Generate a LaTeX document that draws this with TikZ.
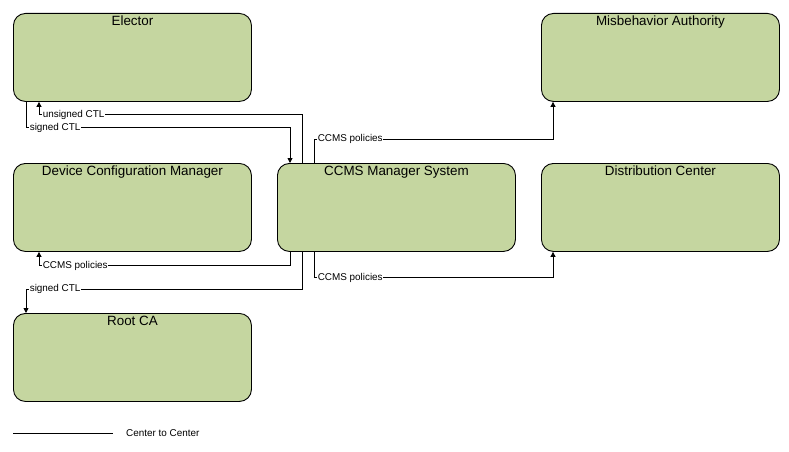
\documentclass[tikz,border=0pt]{standalone}
\usepackage{fontspec}
\setmainfont{Liberation Sans}
\usetikzlibrary{arrows.meta,calc}
\definecolor{boxfill}{RGB}{197,214,160}
\begin{document}
\begin{tikzpicture}[x=1pt,y=-1pt,
  box/.style={draw=black,line width=0.9pt,fill=boxfill,rounded corners=12pt,
    minimum width=238pt,minimum height=88pt,inner sep=0pt,anchor=north west},
  ttl/.style={anchor=north,inner sep=0pt,yshift=-3pt,font=\fontsize{13.4}{16}\selectfont},
  conn/.style={draw=black,line width=0.9pt},
  arr/.style={conn,-{Triangle[length=5pt,width=5pt]}},
  lab/.style={anchor=west,fill=white,inner sep=0.6pt,font=\fontsize{9.9}{11}\selectfont}]
\useasboundingbox (0,0) rectangle (789,452);
\node[box] (elector) at (13,13) {};
\node[ttl] (electorT) at (elector.north) {Elector};
\node[box] (ma) at (541,13) {};
\node[ttl] (maT) at (ma.north) {Misbehavior Authority};
\node[box] (dcm) at (13,163) {};
\node[ttl] (dcmT) at (dcm.north) {Device Configuration Manager};
\node[box] (ccms) at (277,163) {};
\node[ttl] (ccmsT) at (ccms.north) {CCMS Manager System};
\node[box] (dc) at (541,163) {};
\node[ttl] (dcT) at (dc.north) {Distribution Center};
\node[box] (root) at (13,313) {};
\node[ttl] (rootT) at (root.north) {Root CA};
% 1 unsigned CTL: CCMS -> Elector
\coordinate (k1) at ($([xshift=26pt]elector.south west)+(0,13)$);
\draw[arr] ([xshift=25pt]ccms.north west) |- (k1) -- ([xshift=26pt]elector.south west);
\node[lab] (l1) at ([xshift=3pt]k1) {unsigned CTL};
% 2 signed CTL: Elector -> CCMS
\coordinate (k2) at ($([xshift=13pt]elector.south west)+(0,26)$);
\draw[arr] ([xshift=13pt]elector.south west) -- (k2) -| ([xshift=13pt]ccms.north west);
\node[lab] (l2) at ([xshift=3pt]k2) {signed CTL};
% 3 CCMS policies: CCMS -> MA
\coordinate (k3) at ($([xshift=37pt]ccms.north west)+(0,-24)$);
\draw[arr] ([xshift=37pt]ccms.north west) -- (k3) -| ([xshift=12pt]ma.south west);
\node[lab] (l3) at ([xshift=3pt]k3) {CCMS policies};
% 4 CCMS policies: CCMS -> DCM
\coordinate (k4) at ($([xshift=26pt]dcm.south west)+(0,14)$);
\draw[arr] ([xshift=13pt]ccms.south west) |- (k4) -- ([xshift=26pt]dcm.south west);
\node[lab] (l4) at ([xshift=3pt]k4) {CCMS policies};
% 5 signed CTL: CCMS -> Root CA
\coordinate (k5) at ($([xshift=13pt]root.north west)+(0,-24)$);
\draw[arr] ([xshift=25pt]ccms.south west) |- (k5) -- ([xshift=13pt]root.north west);
\node[lab] (l5) at ([xshift=3pt]k5) {signed CTL};
% 6 CCMS policies: CCMS -> DC
\coordinate (k6) at ($([xshift=37pt]ccms.south west)+(0,26)$);
\draw[arr] ([xshift=37pt]ccms.south west) -- (k6) -| ([xshift=12pt]dc.south west);
\node[lab] (l6) at ([xshift=3pt]k6) {CCMS policies};
% legend
\coordinate (lg1) at (13,433);
\coordinate (lg2) at (113,433);
\draw[conn] (lg1) -- (lg2);
\node[anchor=west,inner sep=0pt,font=\fontsize{9.9}{12}\selectfont] (lgT) at (126,433) {Center to Center};
\end{tikzpicture}
\end{document}
